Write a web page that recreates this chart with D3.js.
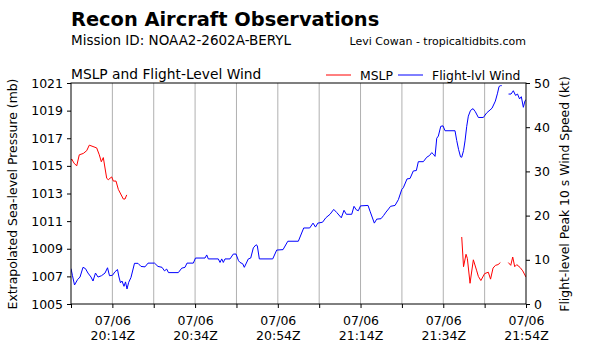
<!DOCTYPE html>
<html><head><meta charset="utf-8">
<script src="https://cdn.jsdelivr.net/npm/d3@7"></script>
<style>body{margin:0;background:#fff} svg text{font-family:"DejaVu Sans",sans-serif;fill:#000}</style>
</head><body><svg id="c" width="591" height="353"></svg>
<script>
// minutes after 20:00Z on 07/06
const windMin=[4.0,4.36,4.85,5.57,6.18,6.9,7.5,8.1,8.84,9.32,
9.92,10.53,11.37,12.22,12.83,13.31,14.03,14.64,15.24,15.6,
15.97,16.33,16.81,17.18,17.54,17.95,18.5,19.35,20.2,20.92,
21.89,22.62,24.19,25.03,26.0,26.6,27.14,27.57,29.94,30.77,
31.56,32.05,33.57,34.1,36.4,36.81,37.2,39.61,40.03,40.44,
40.82,41.23,42.44,43.24,43.89,44.5,44.86,45.51,45.9,46.87,
47.45,48.08,48.73,49.04,49.53,52.77,53.73,55.26,56.42,58.96,
60.26,61.71,62.51,63.11,63.67,64.81,65.6,66.62,67.52,68.24,
69.35,70.0,70.56,71.87,72.42,72.98,73.46,73.99,75.81,76.29,
77.33,77.91,78.95,79.56,80.16,80.77,81.25,82.34,83.14,83.96,
84.34,85.24,85.96,86.76,87.49,87.97,89.18,90.0,90.68,91.21,
91.6,92.01,92.42,92.81,93.39,93.94,94.43,96.84,97.25,97.69,
98.17,98.46,98.9,99.26,99.67,100.06,100.59,101.2,101.75,102.48,
103.69,104.51,105.31,105.79,106.59,107.12,107.48,107.85,108.13,108.9,
109.78,110.38,110.94,111.47,111.95,112.44,112.87,113.36,113.77,114.0];
const windKt=[8.0,6.4,4.3,5.5,6.1,8.3,8.0,7.0,6.1,5.2,
7.0,6.1,6.4,7.0,8.2,6.4,6.5,7.3,7.8,6.1,
4.8,5.2,4.0,5.0,3.4,4.9,6.0,9.2,9.2,8.5,
8.4,9.25,9.25,8.5,8.3,7.5,7.9,7.1,7.1,8.1,
8.3,9.25,9.25,10.4,10.4,11.1,10.2,10.2,9.4,10.2,
9.4,10.2,10.2,11.3,11.3,9.8,9.4,9.1,8.3,10.2,
10.4,12.7,13.4,13.2,10.2,10.2,12.2,12.3,14.2,14.2,
17.2,17.2,18.3,17.4,18.3,18.5,19.5,20.3,21.4,20.7,
19.5,21.2,20.3,20.3,22.1,21.3,21.1,22.2,22.3,21.0,
18.3,19.2,19.3,20.0,20.8,21.5,22.1,22.3,23.6,25.9,
26.3,28.3,28.4,30.1,30.2,32.2,32.2,33.2,33.6,34.25,
33.9,33.4,37.5,38.0,40.2,40.3,39.2,39.2,37.0,35.0,
33.3,33.2,34.7,36.9,40.2,42.5,43.8,44.2,43.5,42.2,
42.2,43.25,43.9,44.3,45.9,47.7,49.2,49.4,49.4,null,
47.5,47.5,48.25,47.2,47.5,46.4,46.9,44.5,46.0,46.2];
const mslpMin=[4.0,4.17,4.73,5.38,6.0,6.97,7.8,8.42,9.32,10.21,
10.84,11.33,11.81,12.63,13.02,13.84,14.23,14.88,15.44,16.65,
17.06,17.47,58.0,
98.46,98.9,99.5,99.82,100.47,101.27,102.09,102.48,103.09,104.0,
104.89,105.43,106.03,106.63,107.24,107.8,108.7,
109.73,110.31,110.79,111.27,111.76,112.56,113.21,114.0];
const mslpMb=[1015.4,1015.5,1015.2,1015.0,1015.8,1015.9,1016.1,1016.5,1016.4,1016.3,
1015.8,1015.3,1015.6,1014.1,1014.0,1014.2,1013.9,1013.9,1013.3,1012.6,
1012.6,1012.9,null,
1009.85,1007.7,1008.6,1008.3,1006.5,1008.2,1007.4,1007.0,1006.7,1007.2,
1007.3,1006.8,1007.6,1007.8,1007.85,1008.0,null,
1008.0,1007.8,1008.4,1007.7,1007.85,1007.65,1007.4,1006.95];
const pressTicks=[1005,1007,1009,1011,1013,1015,1017,1019,1021];
const windTicks=[0,10,20,30,40,50];
const timeTickMin=[4,14,24,34,44,54,64,74,84,94,104,114];
const timeLabelMin=[14,34,54,74,94,114];
const dateLabel="07/06";

const svg=d3.select("#c");
const L=71,R=526,T=83,B=304;
const base=Date.UTC(2024,6,6,20,0,0);
const toDate=m=>new Date(base+m*60000);
const x=d3.scaleUtc().domain([toDate(4),toDate(114)]).range([L,R]);
const yL=d3.scaleLinear().domain([1005,1021]).range([B,T]);
const yR=d3.scaleLinear().domain([0,50]).range([B,T]);

// grid
svg.append("g").selectAll("line").data(timeTickMin.slice(1,-1)).join("line")
  .attr("x1",d=>x(toDate(d))).attr("x2",d=>x(toDate(d)))
  .attr("y1",T).attr("y2",B).attr("stroke","#b0b0b0").attr("stroke-width",1);

// lines
const clip=svg.append("clipPath").attr("id","pc").append("rect").attr("x",L).attr("y",T-1).attr("width",R-L).attr("height",B-T+1);
const windData=windMin.map((m,i)=>({t:toDate(m),v:windKt[i]}));
const mslpData=mslpMin.map((m,i)=>({t:toDate(m),v:mslpMb[i]}));
svg.append("path").datum(mslpData).attr("clip-path","url(#pc)")
  .attr("fill","none").attr("stroke","#ff0000").attr("stroke-width",1)
  .attr("d",d3.line().defined(d=>d.v!=null).x(d=>x(d.t)).y(d=>yL(d.v)));
svg.append("path").datum(windData).attr("clip-path","url(#pc)")
  .attr("fill","none").attr("stroke","#0000ff").attr("stroke-width",1)
  .attr("d",d3.line().defined(d=>d.v!=null).x(d=>x(d.t)).y(d=>yR(d.v)));

// frame
svg.append("rect").attr("x",L).attr("y",T).attr("width",R-L).attr("height",B-T)
  .attr("fill","none").attr("stroke","#000").attr("stroke-width",1);

const fs="12.5px";
const gl=svg.append("g").attr("transform",`translate(${L},0)`)
  .call(d3.axisLeft(yL).tickValues(pressTicks).tickSize(4).tickPadding(4).tickFormat(d3.format("d")));
const gr=svg.append("g").attr("transform",`translate(${R},0)`)
  .call(d3.axisRight(yR).tickValues(windTicks).tickSize(4).tickPadding(4));
const gb=svg.append("g").attr("transform",`translate(0,${B})`)
  .call(d3.axisBottom(x).tickValues(timeTickMin.map(toDate)).tickSize(4));
[gl,gr,gb].forEach(g=>{g.select(".domain").remove();g.selectAll("text").style("font-size",fs);g.selectAll(".tick line").attr("stroke","#000");});
gb.selectAll(".tick text").each(function(d){
  const m=Math.round((d-base)/60000);
  const t=d3.select(this).text(null).attr("y",21).attr("dy",0);
  if(timeLabelMin.includes(m)){
    t.append("tspan").attr("x",0).attr("dy",0).text(dateLabel);
    t.append("tspan").attr("x",0).attr("dy",15).text(d3.utcFormat("%H:%MZ")(d));
  }
});

// titles
svg.append("text").attr("x",71).attr("y",26).style("font-size","19.4px").style("font-weight","bold").text("Recon Aircraft Observations");
svg.append("text").attr("x",71).attr("y",45).style("font-size","13.5px").text("Mission ID: NOAA2-2602A-BERYL");
svg.append("text").attr("x",526).attr("y",45).attr("text-anchor","end").style("font-size","11px").text("Levi Cowan - tropicaltidbits.com");
svg.append("text").attr("x",71).attr("y",79).style("font-size","13.8px").text("MSLP and Flight-Level Wind");

// legend
const leg=[{k:"MSLP",c:"#ff0000",x:326},{k:"Flight-lvl Wind",c:"#0000ff",x:398}];
const lg=svg.append("g");
lg.selectAll("line").data(leg).join("line").attr("x1",d=>d.x).attr("x2",d=>d.x+25).attr("y1",75).attr("y2",75).attr("stroke",d=>d.c).attr("stroke-width",1);
lg.selectAll("text").data(leg).join("text").attr("x",d=>d.x+34).attr("y",79.5).style("font-size","12.4px").text(d=>d.k);

// axis titles
svg.append("text").attr("transform","translate(17,194) rotate(-90)").attr("text-anchor","middle").style("font-size","12.4px").text("Extrapolated Sea-level Pressure (mb)");
svg.append("text").attr("transform","translate(569,194) rotate(-90)").attr("text-anchor","middle").style("font-size","12.4px").text("Flight-level Peak 10 s Wind Speed (kt)");
</script></body></html>
